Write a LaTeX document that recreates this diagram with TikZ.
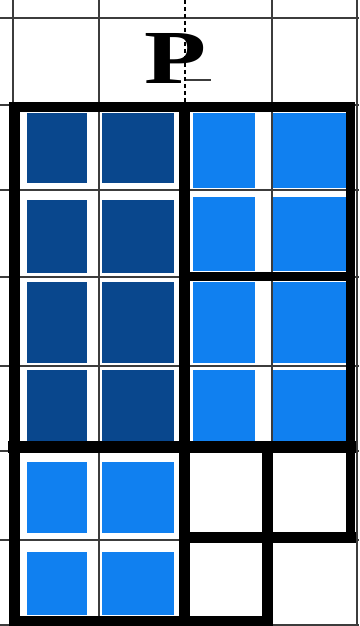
\documentclass[tikz,border=0pt]{standalone}
\usepackage{fontspec}
\setmainfont{Liberation Serif}
\usepackage{graphicx}
\definecolor{darkb}{RGB}{9,71,141}
\definecolor{lightb}{RGB}{16,128,240}
\definecolor{gridc}{RGB}{60,60,60}
\begin{document}
\begin{tikzpicture}[x=1pt,y=-1pt,
  gridline/.style={gridc, line width=1.6pt},
  frameline/.style={black, line width=11pt, line cap=rect},
  darkcell/.style={fill=darkb},
  lightcell/.style={fill=lightb}]
\useasboundingbox (0,0) rectangle (359,626);
\fill[white] (0,0) rectangle (359,626);
% dark blue cells (left block, rows 1-4)
\foreach \xa/\xb in {27/87,102/174}
  \foreach \ya/\yb in {113/183,200/273,282/363,370/442}
    \path[darkcell] (\xa,\ya) rectangle (\xb,\yb);
% light blue cells (right block, rows 1-4)
\foreach \xa/\xb in {193/255,273/346}
  \foreach \ya/\yb in {113/188,197/271,282/363,370/442}
    \path[lightcell] (\xa,\ya) rectangle (\xb,\yb);
% light blue cells (bottom left block)
\foreach \xa/\xb in {27/87,102/174}
  \foreach \ya/\yb in {462/533,552/615}
    \path[lightcell] (\xa,\ya) rectangle (\xb,\yb);
% grid
\foreach \gx in {13,99,272,357}
  \draw[gridline] (\gx,0) -- (\gx,626);
\foreach \gy in {18,105,190,277,366,451,540,625}
  \draw[gridline] (0,\gy) -- (359,\gy);
\draw[black, line width=1.6pt, dash pattern=on 4pt off 3pt] (185,0) -- (185,107);
% label
\node[inner sep=0pt] (P) at (176,58) {\resizebox{62pt}{50pt}{\bfseries P}};
\draw[gridc, line width=1.6pt] (186,80) -- (211,80);
% thick frame
\draw[frameline] (14,107) -- (14,621);
\draw[frameline, line width=10pt] (14,107) -- (350,107);
\draw[frameline, line width=9pt] (350,107) -- (350,537);
\draw[frameline] (184,107) -- (184,621);
\draw[frameline, line width=9pt] (184,276) -- (350,276);
\draw[frameline, line width=12pt] (14,447) -- (350,447);
\draw[frameline] (267,447) -- (267,621);
\draw[frameline] (184,537) -- (350,537);
\draw[frameline] (14,621) -- (267,621);
\end{tikzpicture}
\end{document}
